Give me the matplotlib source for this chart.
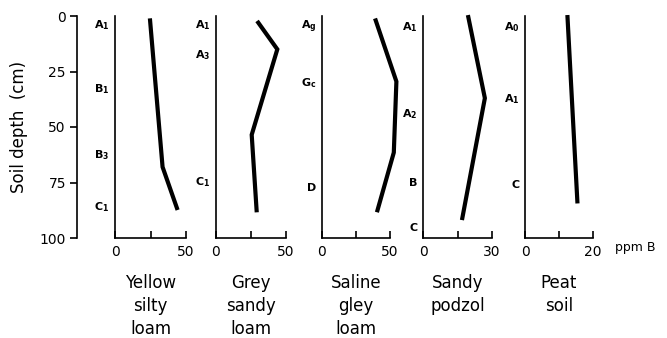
import matplotlib.pyplot as plt

# boron (ppm B) against depth for five soil profiles
soils = ['Yellow\nsilty\nloam', 'Grey\nsandy\nloam', 'Saline\ngley\nloam', 'Sandy\npodzol', 'Peat\nsoil']
xmax = [50, 50, 50, 30, 20]

depths = [
    [2, 68, 86.5],
    [3, 15, 53.5, 87.5],
    [2, 29.5, 61.5, 87.5],
    [0.5, 37, 91],
    [0.5, 83.5],
]
boron = [
    [24.7, 33.5, 43.6],
    [30.2, 43.8, 25.5, 29.0],
    [39.5, 54.7, 52.8, 40.8],
    [19.7, 26.9, 17.1],
    [12.5, 15.4],
]

horizon_names = [
    ['A$_\\mathregular{1}$', 'B$_\\mathregular{1}$', 'B$_\\mathregular{3}$', 'C$_\\mathregular{1}$'],
    ['A$_\\mathregular{1}$', 'A$_\\mathregular{3}$', 'C$_\\mathregular{1}$'],
    ['A$_\\mathregular{g}$', 'G$_\\mathregular{c}$', 'D'],
    ['A$_\\mathregular{1}$', 'A$_\\mathregular{2}$', 'B', 'C'],
    ['A$_\\mathregular{0}$', 'A$_\\mathregular{1}$', 'C'],
]
horizon_depths = [
    [4, 33, 62.5, 86],
    [4, 17.5, 75],
    [5, 30, 77.5],
    [5, 44, 75, 95.5],
    [5, 37.5, 76],
]

W, H = 667, 338
fig = plt.figure(figsize=(W / 100, H / 100), dpi=100)
bottom = 1 - 238 / H
height = 222 / H
lefts = [115, 216, 322, 423, 525]
widths = [71, 70, 68, 69, 68]

# shared depth scale on the far left
axd = fig.add_axes([77 / W, bottom, 0.0001, height])
axd.set_ylim(100, 0)
axd.set_yticks([0, 25, 50, 75, 100])
axd.set_xticks([])
for s in ['top', 'right', 'bottom']:
    axd.spines[s].set_visible(False)
axd.spines['left'].set_linewidth(1.2)
axd.tick_params(axis='y', direction='out', length=5, width=1.2, labelsize=10, pad=3)
axd.set_ylabel('Soil depth  (cm)', fontsize=12, labelpad=8)

for i in range(5):
    ax = fig.add_axes([lefts[i] / W, bottom, widths[i] / W, height])
    ax.plot(boron[i], depths[i], color='black', lw=3, solid_joinstyle='miter', clip_on=False)
    ax.set_xlim(0, xmax[i])
    ax.set_ylim(100, 0)
    ax.set_xticks([0, xmax[i] / 2, xmax[i]])
    ax.set_xticklabels(['0', '', str(xmax[i])])
    ax.set_yticks([])
    for s in ['top', 'right']:
        ax.spines[s].set_visible(False)
    for s in ['left', 'bottom']:
        ax.spines[s].set_linewidth(1.2)
    ax.tick_params(axis='x', direction='in', length=5, width=1.2, labelsize=10, pad=5)
    for name, d in zip(horizon_names[i], horizon_depths[i]):
        ax.annotate(name, xy=(0, d), xycoords=('axes fraction', 'data'),
                    xytext=(-4, 0), textcoords='offset points',
                    ha='right', va='center', fontsize=8, fontweight='bold')
    ax.text(0.5, -0.16, soils[i], transform=ax.transAxes, ha='center', va='top',
            fontsize=12, linespacing=1.38)

fig.text(635 / W, 1 - 248 / H, 'ppm B', ha='center', va='center', fontsize=9)

fig.savefig('out.png', dpi=100)
